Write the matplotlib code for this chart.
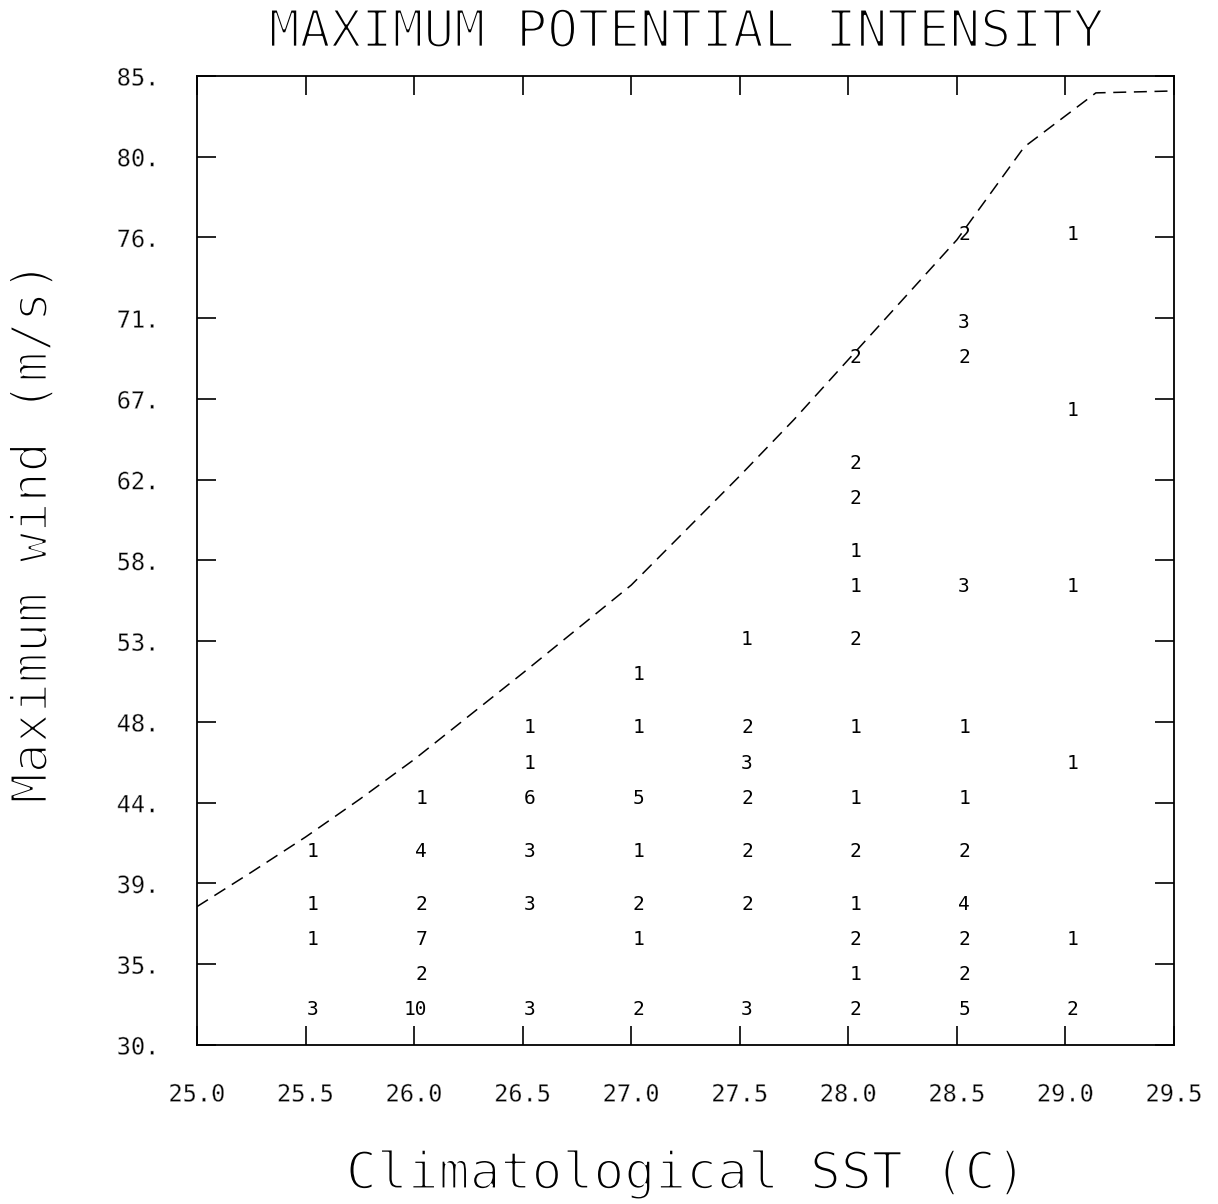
import matplotlib
matplotlib.use('Agg')
import matplotlib.pyplot as plt
import matplotlib.transforms as mtransforms
import matplotlib.patheffects as pe

plt.rcParams['font.family'] = 'DejaVu Sans Mono'

# --- MPI curve (dashed) ---
mpi_sst = [25.0, 25.25, 25.5, 25.75, 26.0, 26.25, 26.5, 26.75, 27.0, 27.25,
           27.5, 27.75, 28.0, 28.25, 28.5, 28.81, 29.14, 29.5]
mpi_wind = [37.85, 39.8, 41.8, 43.95, 46.2, 48.65, 51.1, 53.6, 56.1, 59.2,
            62.3, 65.5, 68.9, 72.3, 75.7, 80.97, 84.04, 84.15]

# --- case counts, one column per SST bin ---
sst_bins = [25.5, 26.0, 26.5, 27.0, 27.5, 28.0, 28.5, 29.0]
wind_255 = [32, 36, 38, 41]
count_255 = [3, 1, 1, 1]
wind_260 = [32, 34, 36, 38, 41, 44]
count_260 = [10, 2, 7, 2, 4, 1]
wind_265 = [32, 38, 41, 44, 46, 48]
count_265 = [3, 3, 3, 6, 1, 1]
wind_270 = [32, 36, 38, 41, 44, 48, 51]
count_270 = [2, 1, 2, 1, 5, 1, 1]
wind_275 = [32, 38, 41, 44, 46, 48, 53]
count_275 = [3, 2, 2, 2, 3, 2, 1]
wind_280 = [32, 34, 36, 38, 41, 44, 48, 53, 56, 58, 61, 63, 69]
count_280 = [2, 1, 2, 1, 2, 1, 1, 2, 1, 1, 2, 2, 2]
wind_285 = [32, 34, 36, 38, 41, 44, 48, 56, 69, 71, 76]
count_285 = [5, 2, 2, 4, 2, 1, 1, 3, 2, 3, 2]
wind_290 = [32, 36, 46, 56, 66, 76]
count_290 = [2, 1, 1, 1, 1, 1]

columns = [(wind_255, count_255), (wind_260, count_260), (wind_265, count_265),
           (wind_270, count_270), (wind_275, count_275), (wind_280, count_280),
           (wind_285, count_285), (wind_290, count_290)]

# --- axes ticks ---
xticks = [25.0, 25.5, 26.0, 26.5, 27.0, 27.5, 28.0, 28.5, 29.0, 29.5]
xtick_labels = ['25.0', '25.5', '26.0', '26.5', '27.0', '27.5', '28.0',
                '28.5', '29.0', '29.5']
ytick_labels = ['30.', '35.', '39.', '44.', '48.', '53.', '58.', '62.',
                '67.', '71.', '76.', '80.', '85.']
y_lo, y_hi = 30.0, 85.0

# thin "plotter pen" look: erode glyph edges with a white outline
thin_big = [pe.Normal(), pe.Stroke(linewidth=1.7, foreground='white')]
thin_small = [pe.Normal(), pe.Stroke(linewidth=0.35, foreground='white')]

fig = plt.figure(figsize=(12.18, 12.04), dpi=100)
ax = fig.add_axes([0.1617, 0.1321, 0.8022, 0.8048])

ax.plot(mpi_sst, mpi_wind, color='black', linewidth=1.1,
        linestyle=(0, (8.5, 5)))

# counts, right-aligned just right of the SST tick
txt_trans = mtransforms.offset_copy(ax.transData, fig=fig, x=13, y=0, units='dots')
for sst, (winds, counts) in zip(sst_bins, columns):
    for w, n in zip(winds, counts):
        ax.text(sst, w, str(n), transform=txt_trans, ha='right', va='center',
                fontsize=14, color='black')

ax.set_xlim(25.0, 29.5)
ax.set_ylim(y_lo, y_hi)

step = (y_hi - y_lo) / (len(ytick_labels) - 1)
yticks = [y_lo + i * step for i in range(len(ytick_labels))]
ax.set_xticks(xticks)
ax.set_xticklabels(xtick_labels)
ax.set_yticks(yticks)
ax.set_yticklabels(ytick_labels)

ax.tick_params(direction='in', length=14, width=1.2, top=True, right=True,
               labelsize=17, pad=27, colors='black')
for lbl in ax.get_xticklabels() + ax.get_yticklabels():
    lbl.set_path_effects(thin_small)
for sp in ax.spines.values():
    sp.set_linewidth(1.3)
    sp.set_color('black')

ax.set_title('MAXIMUM POTENTIAL INTENSITY', fontsize=37, pad=21,
             path_effects=thin_big)
ax.set_xlabel('Climatological SST (C)', fontsize=37, path_effects=thin_big)
ax.set_ylabel('Maximum wind (m/s)', fontsize=36, path_effects=thin_big)
ax.xaxis.set_label_coords(0.5, -0.108)
ax.yaxis.label.set_va('center')
ax.yaxis.set_label_coords(-0.168, 0.529)

fig.savefig('out.png', dpi=100, facecolor='white')
